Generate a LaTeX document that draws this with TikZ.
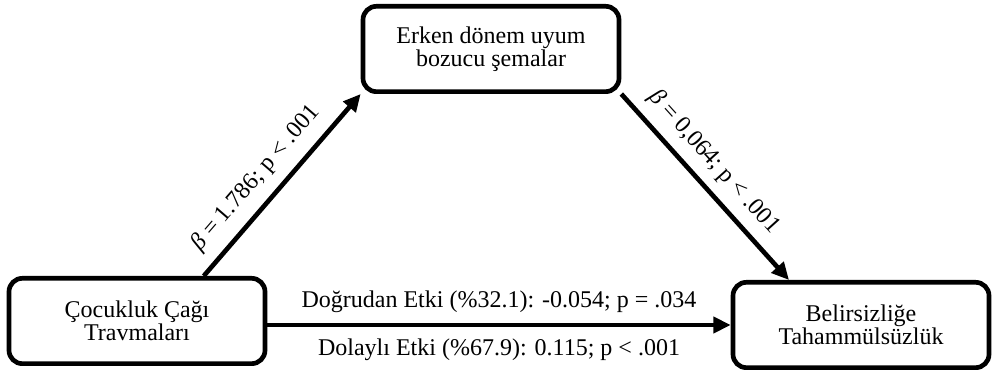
\documentclass[tikz,border=0pt]{standalone}
\usepackage{fontspec}
\setmainfont{Liberation Serif}
\usetikzlibrary{arrows.meta}
\tikzset{
    kutu/.style={draw, line width=3.5pt, rounded corners=10pt, align=center,
        minimum width=192pt, minimum height=64pt, font=\fontsize{18}{17.5}\selectfont},
    yol/.style={line width=3.5pt, -{Triangle[length=13pt,width=12pt]}},
    etiket/.style={font=\fontsize{18}{18}\selectfont}
}

\begin{document}
\begin{tikzpicture}[x=0.75pt,y=-0.75pt]
            \useasboundingbox (0,0) rectangle (992,373);
            \node[kutu] (ctt) at (137,321) {Çocukluk Çağı\\Travmaları};
            \node[kutu] (ems) at (491,49) {Erken dönem uyum\\bozucu şemalar};
            \node[kutu] (bt) at (861,325) {Belirsizliğe\\Tahammülsüzlük};
            \draw[yol] (ctt.34) -- (ems.south west)
                node[pos=0.45, sloped, above=5pt, etiket] {{\itshape β} = 1.786; p < .001};
            \draw[yol] (ems.south east) -- (bt.148)
                node[pos=0.45, sloped, above=4pt, etiket] {{\itshape β} = 0,064; p < .001};
            \draw[yol] (ctt.east |- bt.west) -- (bt.west)
                node[midway, above=4pt, etiket] {Doğrudan Etki (\%32.1): -0.054; p = .034}
                node[midway, below=5pt, etiket] {Dolaylı Etki (\%67.9): 0.115; p < .001};
        \end{tikzpicture}
\end{document}
